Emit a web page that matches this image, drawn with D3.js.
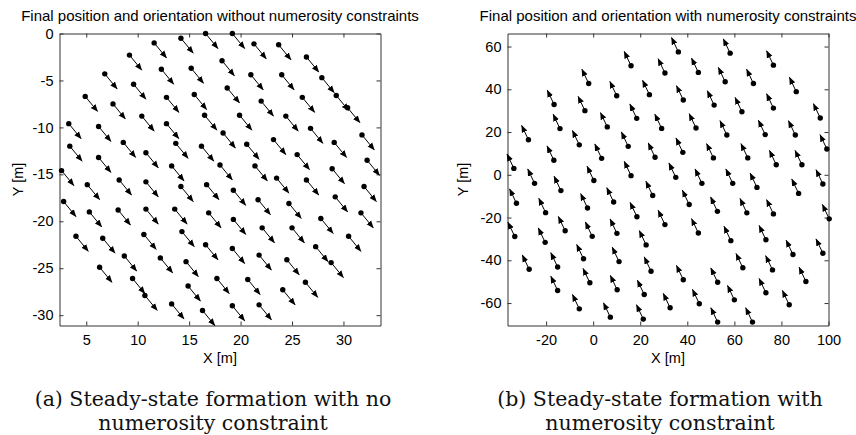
<!DOCTYPE html>
<html>
<head>
<meta charset="utf-8">
<script src="https://cdn.jsdelivr.net/npm/d3@7/dist/d3.min.js"></script>
<style>
  body { margin: 0; background: #fff; }
  .tick text { font-family: "Liberation Sans", Arial, sans-serif; font-size: 14.5px; fill: #000; }
  .ttl, .lbl { font-family: "Liberation Sans", Arial, sans-serif; fill: #000; }
  .cap { font-family: "DejaVu Serif", serif; font-size: 20.5px; fill: #111; }
</style>
</head>
<body>
<svg id="chart" width="856" height="435"></svg>
<script>

// ---- left panel: agent positions (tail dots), no numerosity constraint
const leftX = [11.6, 14.2, 16.6, 9.2, 12.3, 15.2, 6.8, 9.6, 12.8, 15.5, 4.9, 7.6, 10.4, 12.8, 16.5,
  3.3, 6.2, 3.4, 6.2, 8.6, 10.8, 13.7, 16.2, 13.3, 2.6,
  5.1, 8.2, 10.8, 14.2, 16.7, 2.8, 5.3, 8.1, 10.8, 13.6, 16.9, 4.0, 6.6, 10.6, 14.3, 16.6,
  8.7, 12.2, 14.7, 6.3, 9.5, 17.7, 10.7, 14.9, 13.3, 16.3,
  19.2, 21.3, 23.7, 18.2, 26.4, 21.0, 24.0, 27.9, 18.7, 22.0, 26.0, 29.3, 30.4, 19.9, 24.4,
  18.3, 20.6, 23.2, 26.8, 29.1, 31.8, 18.0, 21.4, 23.5, 25.5, 26.4, 28.9, 32.3,
  19.3, 32.0, 29.2, 19.3, 21.7, 24.7, 31.7, 27.8, 22.1, 25.0, 30.5, 19.2, 21.8, 27.3, 24.5,
  28.8, 20.7, 26.3, 24.1, 19.2, 21.8];
const leftY = [-1.0, -0.5, 0.0, -2.3, -3.8, -3.7, -4.3, -5.4, -6.8, -6.5, -6.7, -7.5, -8.8, -9.6, -8.7,
  -9.6, -9.9, -12.0, -13.2, -11.6, -12.7, -11.7, -12.0, -14.1, -14.6,
  -16.1, -15.6, -15.8, -16.3, -16.1, -17.9, -19.0, -18.8, -18.7, -18.7, -19.1, -21.6, -21.8, -21.4, -21.1, -22.5,
  -23.7, -23.9, -24.3, -24.9, -26.1, -26.1, -27.9, -26.9, -28.8, -29.5,
  0.0, -1.1, -1.2, -2.9, -2.5, -4.4, -4.4, -4.7, -5.8, -7.2, -6.8, -6.6, -7.9, -8.7, -8.8,
  -10.6, -11.8, -11.3, -10.1, -11.6, -10.8, -14.0, -14.1, -15.4, -12.9, -15.6, -14.4, -13.5,
  -16.7, -16.3, -17.4, -19.8, -17.7, -18.1, -19.1, -19.7, -20.7, -20.7, -21.6, -22.9, -23.6, -22.7, -24.1,
  -24.4, -26.2, -26.5, -27.3, -29.0, -28.9];
const leftHeading = [1.2, -1.6];   // common orientation, data units

// ---- right panel: with numerosity constraint
const rightX = [16.1, -1.9, 10.0, -16.6, -3.5, 18.5, -14.1, 6.0, -27.5, -5.9, 14.9, -16.7, 3.6, -33.7,
  -24.9, 0.3, 16.1, -13.7,
  -32.6, -20.2, -2.4, 8.7, 18.6, -33.3, -20.4, -11.9, -0.4, 10.1, 22.5, -27.2, -15.1, -4.1, 11.0,
  -15.1, -1.4, 10.2, 21.7, -5.9, 7.3, 21.3,
  36.2, 58.2, 30.5, 44.7, 76.6, 23.9, 38.3, 56.1, 68.1, 86.3, 51.4, 63.2, 76.6, 96.5, 29.1, 43.7,
  56.8, 73.1, 85.9, 26.3, 38.1, 51.1, 65.7, 77.8, 88.7, 99.3, 35.1, 46.2, 97.6,
  59.3, 69.6, 87.3, 25.3, 40.8, 52.8, 65.3, 76.6, 100.3, 30.5, 44.7, 58.5, 73.4, 84.9, 97.6,
  24.6, 38.3, 52.9, 63.6, 76.2, 90.4, 32.7, 45.1, 60.0, 73.4, 83.3, 52.9, 67.7];
const rightY = [51.0, 42.7, 37.0, 32.9, 30.0, 26.4, 21.6, 22.4, 16.4, 14.0, 13.3, 6.8, 7.7, 3.0,
  -4.0, -2.7, -0.4, -7.4,
  -13.3, -17.7, -15.5, -12.7, -19.6, -28.9, -31.6, -26.2, -28.8, -27.4, -32.8, -44.2, -43.1, -39.3, -40.6,
  -54.1, -50.5, -53.8, -56.0, -62.7, -66.6, -67.5,
  57.5, 56.9, 47.6, 47.9, 51.3, 37.5, 35.0, 43.5, 42.7, 38.9, 32.6, 29.5, 31.2, 26.6, 21.7, 21.9,
  18.6, 18.8, 18.6, 8.2, 10.5, 7.9, 7.9, 4.7, 4.7, 12.1, -1.2, -4.0, -4.3,
  -4.0, -5.9, -8.7, -9.7, -13.9, -17.1, -17.8, -18.3, -20.6, -23.3, -27.2, -30.8, -30.4, -37.3, -36.7,
  -45.1, -49.1, -50.3, -43.5, -44.5, -49.9, -62.2, -60.3, -58.5, -55.2, -60.8, -68.9, -68.9];
const rightHeading = [-2.9, 6.7];

const leftXTicks = [5, 10, 15, 20, 25, 30];
const leftYTicks = [0, -5, -10, -15, -20, -25, -30];
const rightXTicks = [-20, 0, 20, 40, 60, 80, 100];
const rightYTicks = [-60, -40, -20, 0, 20, 40, 60];

const svg = d3.select("#chart");

// arrowhead marker
svg.append("defs").append("marker")
    .attr("id", "head")
    .attr("markerUnits", "userSpaceOnUse")
    .attr("markerWidth", 9).attr("markerHeight", 9)
    .attr("viewBox", "0 -4.5 9 9")
    .attr("refX", 7).attr("refY", 0)
    .attr("orient", "auto")
  .append("path")
    .attr("d", "M0,-3L7.5,0L0,3Z")
    .attr("fill", "#000");

function drawPanel(p) {
  const x = d3.scaleLinear().domain(p.xDomain).range([p.left, p.right]);
  const y = d3.scaleLinear().domain(p.yDomain).range([p.bottom, p.top]);
  const g = svg.append("g");
  const noLabel = () => "";

  // box + inward ticks, MATLAB style
  const bottomAx = g.append("g").attr("transform", `translate(0,${p.bottom})`)
    .call(d3.axisBottom(x).tickValues(p.xTicks).tickSizeInner(-4).tickSizeOuter(0).tickPadding(9));
  g.append("g").attr("transform", `translate(0,${p.top})`)
    .call(d3.axisTop(x).tickValues(p.xTicks).tickSizeInner(-4).tickSizeOuter(0).tickFormat(noLabel));
  const leftAx = g.append("g").attr("transform", `translate(${p.left},0)`)
    .call(d3.axisLeft(y).tickValues(p.yTicks).tickSizeInner(-4).tickSizeOuter(0).tickPadding(6));
  g.append("g").attr("transform", `translate(${p.right},0)`)
    .call(d3.axisRight(y).tickValues(p.yTicks).tickSizeInner(-4).tickSizeOuter(0).tickFormat(noLabel));
  g.selectAll(".domain, .tick line").attr("stroke", "#333").attr("stroke-width", 1);
  [bottomAx, leftAx].forEach(ax => ax.selectAll(".tick text")
    .attr("fill", "#000")
    .text(d => d < 0 ? "-" + Math.abs(d) : d));

  const pts = p.xs.map((v, i) => ({x: v, y: p.ys[i]}));

  g.selectAll("line.arrow").data(pts).enter().append("line")
    .attr("class", "arrow")
    .attr("x1", d => x(d.x)).attr("y1", d => y(d.y))
    .attr("x2", d => x(d.x + p.heading[0])).attr("y2", d => y(d.y + p.heading[1]))
    .attr("stroke", "#000").attr("stroke-width", 1)
    .attr("marker-end", "url(#head)");

  g.selectAll("circle.agent").data(pts).enter().append("circle")
    .attr("class", "agent")
    .attr("cx", d => x(d.x)).attr("cy", d => y(d.y))
    .attr("r", 2.7).attr("fill", "#000");

  const cx = (p.left + p.right) / 2;
  g.append("text").attr("class", "ttl").attr("x", cx).attr("y", 21)
    .attr("text-anchor", "middle").attr("font-size", 15).text(p.title);
  g.append("text").attr("class", "lbl").attr("x", cx).attr("y", 363)
    .attr("text-anchor", "middle").attr("font-size", 14.5).text("X [m]");
  g.append("text").attr("class", "lbl")
    .attr("transform", `translate(${p.left - p.yLabelGap},${(p.top + p.bottom) / 2}) rotate(-90)`)
    .attr("text-anchor", "middle").attr("font-size", 14.5).text("Y [m]");

  p.caption.forEach((line, i) => {
    g.append("text").attr("class", "cap").attr("x", p.capX).attr("y", 406 + i * 23.5)
      .attr("text-anchor", "middle").text(line);
  });
}

drawPanel({
  xDomain: [2.4, 33.6], yDomain: [-31.1, 0],
  left: 59.5, right: 380.5, top: 33.5, bottom: 325.5,
  xTicks: leftXTicks, yTicks: leftYTicks,
  xs: leftX, ys: leftY, heading: leftHeading,
  yLabelGap: 37,
  title: "Final position and orientation without numerosity constraints",
  capX: 213,
  caption: ["(a) Steady-state formation with no", "numerosity constraint"]
});

drawPanel({
  xDomain: [-36.4, 100], yDomain: [-70.5, 66.1],
  left: 507.5, right: 828.5, top: 33.5, bottom: 325.5,
  xTicks: rightXTicks, yTicks: rightYTicks,
  xs: rightX, ys: rightY, heading: rightHeading,
  yLabelGap: 40,
  title: "Final position and orientation with numerosity constraints",
  capX: 660,
  caption: ["(b) Steady-state formation with", "numerosity constraint"]
});

</script>
</body>
</html>
